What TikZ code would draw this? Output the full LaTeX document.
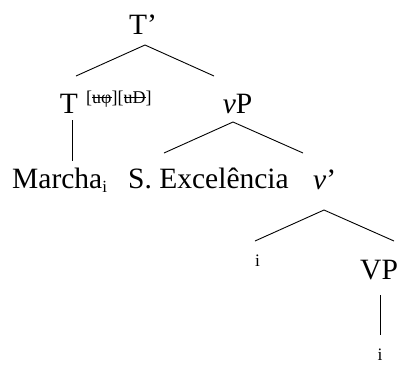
\documentclass[tikz,border=0pt]{standalone}
\usepackage{fontspec}
\setmainfont{Liberation Serif}
\newcommand{\strk}[1]{\leavevmode\rlap{\rule[0.28em]{\widthof{#1}}{0.6pt}}#1}
\usepackage{calc}
\begin{document}
\begin{tikzpicture}[x=1pt,y=-1pt,
  lab/.style={inner sep=0pt,font=\fontsize{29.5}{32}\selectfont},
  sml/.style={inner sep=0pt,font=\fontsize{17.5}{19}\selectfont},
  branch/.style={line width=0.9pt}]
\useasboundingbox (0,0) rectangle (399,365);
% labels
\node[lab,anchor=base] (Tbar) at (143,34) {T’};
\node[lab,anchor=base] (T) at (69,113) {T};
\node[anchor=base west,inner sep=0pt,font=\fontsize{18}{20}\selectfont] (feat) at (86,103)
  {[\strk{uφ}][\strk{uD}]};
\node[lab,anchor=base] (vP) at (237.5,113) {\textit{v}P};
\node[lab,anchor=base west] (Marcha) at (12,188) {Marcha\raisebox{-4pt}{\fontsize{17}{19}\selectfont i}};
\node[lab,anchor=base west] (SExc) at (128,188) {S. Excelência};
\node[lab,anchor=base west] (vbar) at (313,189) {\textit{v}’};
\node[sml,anchor=base] (i1) at (257.5,266) {i};
\node[lab,anchor=base west] (VP) at (360,279) {VP};
\node[sml,anchor=base] (i2) at (380,360) {i};
% branch points
\coordinate (a1) at (145,45); \coordinate (a1l) at (76,76); \coordinate (a1r) at (214,76);
\coordinate (t1) at (72,120); \coordinate (t2) at (72,161);
\coordinate (a2) at (233,122); \coordinate (a2l) at (164,153); \coordinate (a2r) at (303,153);
\coordinate (a3) at (324,210); \coordinate (a3l) at (255,241); \coordinate (a3r) at (394,241);
\coordinate (p1) at (380,295); \coordinate (p2) at (380,335);
\draw[branch] (a1l) -- (a1) -- (a1r);
\draw[branch] (t1) -- (t2);
\draw[branch] (a2l) -- (a2) -- (a2r);
\draw[branch] (a3l) -- (a3) -- (a3r);
\draw[branch] (p1) -- (p2);
\end{tikzpicture}
\end{document}
